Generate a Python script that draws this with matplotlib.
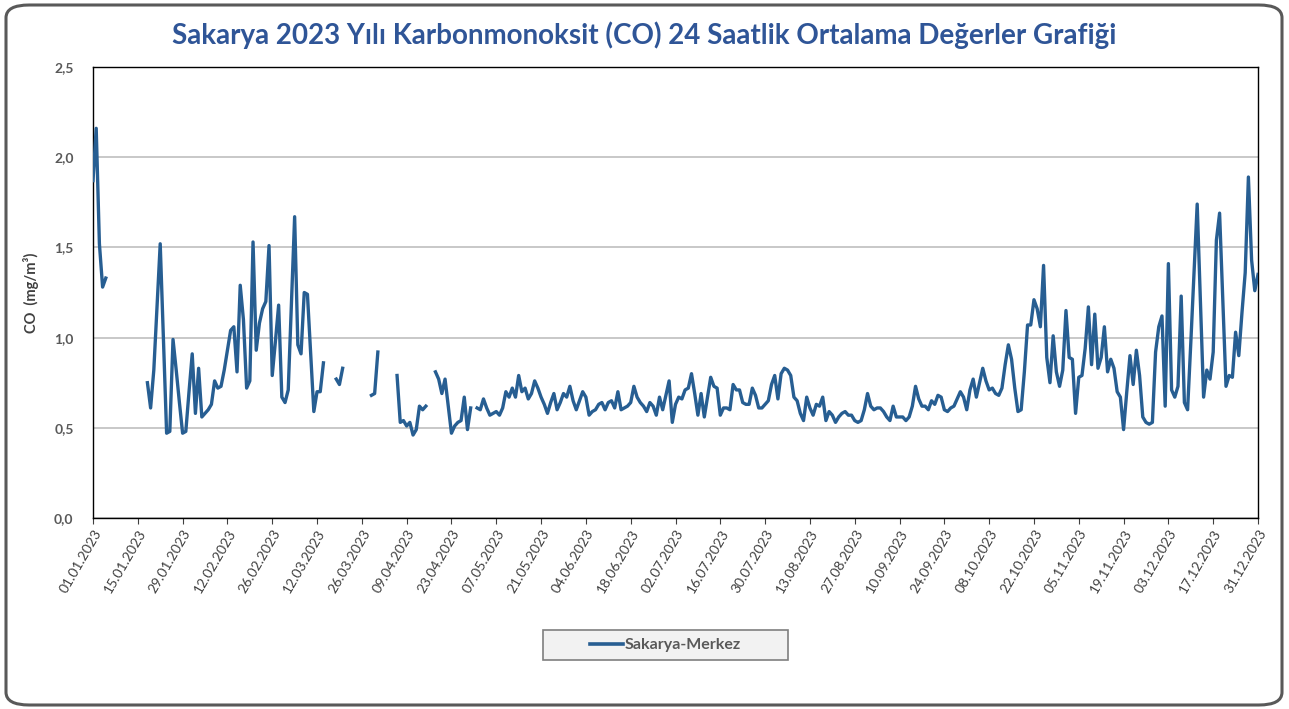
import numpy as np
import pandas as pd
import matplotlib
matplotlib.use("Agg")
import matplotlib.pyplot as plt
from matplotlib.patches import FancyBboxPatch, Rectangle
from matplotlib.lines import Line2D

N = None
# Daily 24h mean CO (mg/m3), Sakarya-Merkez, 2023 (None = no data)
jan = [1.87, 2.16, 1.52, 1.28, 1.33] + [N] * 12 + [0.75, 0.61, 0.82, 1.17, 1.52, 1.00, 0.47, 0.48, 0.99, 0.82, 0.64, 0.47, 0.48, 0.70]
feb = [0.91, 0.58, 0.83, 0.56, 0.58, 0.60, 0.63, 0.76, 0.72, 0.73, 0.82, 0.93, 1.04, 1.06, 0.81, 1.29, 1.10, 0.72, 0.76, 1.53,
       0.93, 1.08, 1.16, 1.20, 1.51, 0.79, 0.98, 1.18]
mar = [0.67, 0.64, 0.71, 1.19, 1.67, 0.96, 0.91, 1.25, 1.24, 0.92, 0.59, 0.70, 0.70, 0.86, N, N, N, 0.77, 0.74, 0.83,
       N, N, N, N, N, N, N, N, 0.68, 0.69, 0.92]
apr = [N, N, N, N, N, 0.79, 0.53, 0.54, 0.51, 0.53, 0.46, 0.49, 0.62, 0.60, 0.62, N, N, 0.81, 0.77, 0.69,
       0.77, 0.62, 0.47, 0.51, 0.53, 0.54, 0.67, 0.49, 0.61, N]
may = [0.61, 0.60, 0.66, 0.61, 0.57, 0.58, 0.59, 0.57, 0.61, 0.70, 0.67, 0.72, 0.67, 0.79, 0.70, 0.72, 0.66, 0.69, 0.76, 0.72,
       0.67, 0.63, 0.58, 0.64, 0.69, 0.60, 0.64, 0.69, 0.67, 0.73, 0.65]
jun = [0.60, 0.65, 0.70, 0.67, 0.57, 0.59, 0.60, 0.63, 0.64, 0.60, 0.64, 0.65, 0.61, 0.70, 0.60, 0.61, 0.62, 0.64, 0.73, 0.67,
       0.64, 0.62, 0.59, 0.64, 0.62, 0.57, 0.67, 0.60, 0.68, 0.76]
jul = [0.53, 0.63, 0.67, 0.66, 0.71, 0.72, 0.80, 0.69, 0.57, 0.69, 0.56, 0.67, 0.78, 0.73, 0.72, 0.57, 0.61, 0.61, 0.60, 0.74,
       0.71, 0.71, 0.64, 0.63, 0.63, 0.72, 0.68, 0.61, 0.61, 0.63, 0.65]
aug = [0.74, 0.79, 0.66, 0.80, 0.83, 0.82, 0.79, 0.67, 0.65, 0.58, 0.54, 0.67, 0.61, 0.57, 0.63, 0.62, 0.67, 0.54, 0.59, 0.57,
       0.53, 0.56, 0.58, 0.59, 0.57, 0.57, 0.54, 0.53, 0.54, 0.60, 0.69]
sep = [0.62, 0.60, 0.61, 0.61, 0.59, 0.56, 0.54, 0.62, 0.56, 0.56, 0.56, 0.54, 0.56, 0.62, 0.73, 0.66, 0.62, 0.62, 0.60, 0.65,
       0.63, 0.68, 0.67, 0.60, 0.59, 0.61, 0.62, 0.66, 0.70, 0.67]
oct_ = [0.60, 0.71, 0.77, 0.67, 0.75, 0.83, 0.76, 0.71, 0.72, 0.69, 0.68, 0.72, 0.85, 0.96, 0.88, 0.72, 0.59, 0.60, 0.81, 1.07,
        1.07, 1.21, 1.16, 1.06, 1.40, 0.89, 0.75, 1.01, 0.81, 0.73, 0.82]
nov = [1.15, 0.89, 0.88, 0.58, 0.78, 0.79, 0.94, 1.17, 0.85, 1.13, 0.83, 0.89, 1.06, 0.81, 0.88, 0.83, 0.70, 0.67, 0.49, 0.70,
       0.90, 0.74, 0.93, 0.79, 0.56, 0.53, 0.52, 0.53, 0.92, 1.06]
dec = [1.12, 0.62, 1.41, 0.71, 0.67, 0.73, 1.23, 0.64, 0.60, 0.97, 1.36, 1.74, 1.20, 0.67, 0.82, 0.77, 0.92, 1.54, 1.69, 1.21,
       0.73, 0.79, 0.78, 1.03, 0.90, 1.14, 1.36, 1.89, 1.43, 1.26, 1.35]

series_name = "Sakarya-Merkez"
title = "Sakarya 2023 Yılı Karbonmonoksit (CO) 24 Saatlik Ortalama Değerler Grafiği"
y_label = "CO  (mg/m³)"
y_ticks = [0.0, 0.5, 1.0, 1.5, 2.0, 2.5]

values = np.array([np.nan if v is None else v for v in
                   jan + feb + mar + apr + may + jun + jul + aug + sep + oct_ + nov + dec], dtype=float)
dates = pd.date_range("2023-01-01", "2023-12-31", freq="D")
tick_dates = pd.date_range("2023-01-01", "2023-12-31", freq="14D")

plt.rcParams['font.family'] = ['Lato', 'DejaVu Sans']

W, H = 1289, 709
fig = plt.figure(figsize=(W / 100, H / 100), dpi=100)
fig.patch.set_facecolor('white')

# outer rounded frame
frame = FancyBboxPatch((6 / W, 4 / H), 1276 / W, 700 / H,
                       boxstyle="round,pad=0,rounding_size=0.018",
                       transform=fig.transFigure, facecolor='none',
                       edgecolor='#595959', linewidth=2.2, zorder=-1)
fig.patches.append(frame)

ax = fig.add_axes([93 / W, 1 - 518 / H, (1258 - 93) / W, (518 - 67) / H])
ax.set_facecolor('none')

line_color = '#275E92'
ax.plot(dates, values, color=line_color, linewidth=2.4, solid_joinstyle='round', zorder=3)

ax.set_xlim(dates[0], dates[-1])
ax.set_ylim(0, 2.5)
ax.set_yticks(y_ticks)
ax.set_yticklabels([f"{t:.1f}".replace('.', ',') for t in y_ticks],
                   fontsize=10, fontweight='bold', color='#595959')
ax.tick_params(axis='y', length=0, pad=14)
ax.yaxis.grid(True, color='#BFBFBF', linewidth=1.2, zorder=1)
ax.set_axisbelow(True)

ax.set_xticks(tick_dates)
ax.set_xticklabels([d.strftime('%d.%m.%Y') for d in tick_dates],
                   rotation=60, ha='right', rotation_mode='anchor',
                   fontsize=10, color='#404040')
ax.tick_params(axis='x', length=4, color='#404040', pad=3)

for s in ax.spines.values():
    s.set_color('#000000')
    s.set_linewidth(1.0)

ax.set_ylabel(y_label, fontsize=10.5, fontweight='bold', color='#404040')
ax.yaxis.set_label_coords(-0.046, 0.5)

fig.text(644 / W, 1 - 35 / H, title, ha='center', va='center',
         fontsize=20, fontweight='bold', color='#2F5597')

# legend box
lx0, ly0, lw, lh = 543, 630, 245, 30
fig.patches.append(Rectangle((lx0 / W, 1 - (ly0 + lh) / H), lw / W, lh / H,
                             transform=fig.transFigure, facecolor='#F2F2F2',
                             edgecolor='#7F7F7F', linewidth=1.2, zorder=1))
handle = Line2D([], [], color=line_color, linewidth=2.6)
leg = fig.legend([handle], [series_name], loc='center',
                 bbox_to_anchor=((lx0 + lw / 2) / W, 1 - (ly0 + lh / 2) / H),
                 frameon=False, handlelength=2.05, handletextpad=0.1,
                 prop={'size': 11.5, 'weight': 'bold'})
for t in leg.get_texts():
    t.set_color('#595959')

fig.savefig('out.png', dpi=100, facecolor='white')
